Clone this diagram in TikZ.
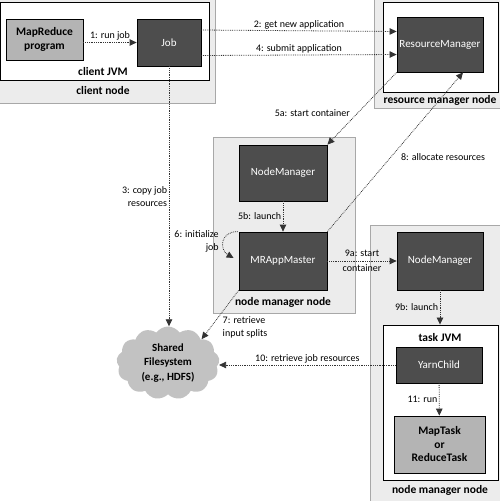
\documentclass[tikz,border=0pt]{standalone}
\usepackage{fontspec}
\setmainfont{Carlito}
\usetikzlibrary{arrows.meta,shapes.symbols,positioning}
\definecolor{darkfill}{HTML}{4D4D4D}
\definecolor{lightfill}{HTML}{B4B4B4}
\definecolor{nodeback}{HTML}{ECECEC}
\definecolor{nodeedge}{HTML}{A8A8A8}
\definecolor{cloudgray}{HTML}{C2C2C2}
\begin{document}
\begin{tikzpicture}[x=1pt,y=-1pt,
  server/.style={draw=black,line width=0.8pt,fill=darkfill,text=white,inner sep=0pt,
    font=\fontsize{11}{13}\selectfont},
  program/.style={draw=black,line width=0.8pt,fill=lightfill,inner sep=0pt,align=center,
    font=\bfseries\fontsize{11.5}{13.5}\selectfont},
  machine/.style={draw=nodeedge,fill=nodeback,line width=0.7pt},
  jvm/.style={draw=black,fill=white,line width=0.9pt,inner sep=0pt},
  caption/.style={font=\bfseries\fontsize{11.5}{13}\selectfont},
  call/.style={densely dotted,line width=0.8pt,draw=black!80,
    -{Triangle[length=7pt,width=6.5pt]}},
  lbl/.style={font=\fontsize{10}{13}\selectfont,inner sep=1.5pt}]
\useasboundingbox (0,0) rectangle (500,501);

% the machines
\draw[machine] (-2,-2) rectangle (215,103);
\draw[machine] (374,-2) rectangle (502,108);
\draw[machine] (213,137) rectangle (355,313);
\draw[machine] (370,225) rectangle (502,503);

% client side
\node[jvm,minimum width=209,minimum height=78] (clientjvm) at (104.5,41) {};
\node[caption] (jvmtext) at (103,72) {client JVM};
\node[caption] (clienttext) at (103,91) {client node};
\node[program,minimum width=77,minimum height=41] (prog) at (44.5,39.5) {MapReduce\\program};
\node[server,minimum width=64,minimum height=47] (job) at (169,42.5) {Job};

% resource manager side
\node[jvm,minimum width=115,minimum height=90] (rmbox) at (440.5,47) {};
\node[server,minimum width=86,minimum height=55] (rm) at (440,44.5) {ResourceManager};
\node[caption] (rmtext) at (440,100) {resource manager node};

% node manager with the application master
\node[server,minimum width=88,minimum height=56] (nm1) at (283,173) {NodeManager};
\node[server,minimum width=88,minimum height=58] (mram) at (283,261) {MRAppMaster};
\node[caption] (nm1text) at (283,302) {node manager node};

% node manager with the task
\node[server,minimum width=86,minimum height=58] (nm2) at (440,261) {NodeManager};
\node[jvm,minimum width=115,minimum height=155] (taskjvm) at (440.5,402.5) {};
\node[caption] (tasktext) at (440,338) {task JVM};
\node[server,minimum width=86,minimum height=36] (yarn) at (439,365) {YarnChild};
\node[program,minimum width=91,minimum height=57] (task) at (439.5,444.5) {MapTask\\or\\ReduceTask};
\node[caption] (nm2text) at (440,490) {node manager node};

% shared filesystem
\node[cloud,cloud puffs=13,cloud puff arc=110,aspect=1.45,fill=cloudgray,inner sep=0pt,
  minimum width=103,minimum height=73,align=center,
  font=\bfseries\fontsize{11}{14.5}\selectfont] (hdfs) at (168,363) {Shared\\Filesystem\\(e.g., HDFS)};

% the steps
\draw[call] (prog.east |- job) -- node[lbl,above] {1: run job} (job.west);
\draw[call] ([yshift=12.5pt]job.east) -- node[lbl,above] {2: get new application} ([yshift=13pt]rm.west);
\draw[call] (job.south) -- node[lbl,left,align=right] {3: copy job\\resources} (job.south |- hdfs.north);
\draw[call] ([yshift=-13pt]job.east) -- node[lbl,above] {4: submit application} ([yshift=-10pt]rm.west);
\draw[call] (rm.south west) -- node[lbl,anchor=east,pos=0.56,xshift=-6pt] {5a: start container} (nm1.north east);
\draw[call] (nm1) -- node[lbl,left] {5b: launch} (mram);
\draw[call] ([xshift=-1pt]mram.north west) .. controls +(-18,0) and +(-14,-8) .. ([xshift=-5pt,yshift=3pt]mram.west)
  node[lbl,pos=0.5,anchor=east,align=right,xshift=-3pt] {6: initialize\\job};
\draw[call] (mram.south west) -- node[lbl,anchor=west,align=left,pos=0.75,xshift=10pt] {7: retrieve\\input splits} (hdfs.north east);
\draw[call] (mram.north east) -- node[lbl,anchor=west,pos=0.47,xshift=8pt] {8: allocate resources} ([xshift=23pt]rm.south);
\draw[call] (mram) -- node[lbl,align=center,font=\fontsize{10}{15}\selectfont] {9a: start\\container} (nm2);
\draw[call] (nm2) -- node[lbl,left] {9b: launch} (nm2.south |- taskjvm.north);
\draw[call] (yarn.west) -- node[lbl,above] {10: retrieve job resources} (yarn.west -| hdfs.east);
\draw[call] (yarn) -- node[lbl,left] {11: run} (task);
\end{tikzpicture}
\end{document}
